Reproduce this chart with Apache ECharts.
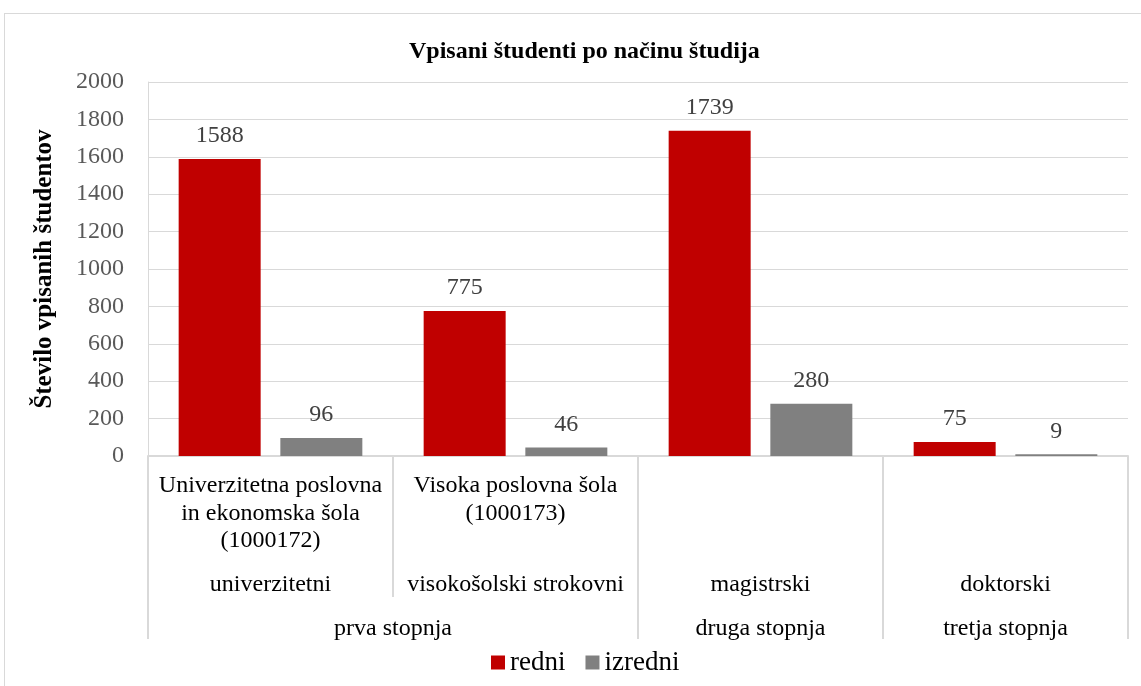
<!DOCTYPE html>
<html>
<head>
<meta charset="utf-8">
<script src="https://cdn.jsdelivr.net/npm/echarts@6/dist/echarts.min.js"></script>
<style>
  html, body { margin: 0; padding: 0; background: #fff; }
  #frame {
    position: absolute; left: 4px; top: 13px; width: 1160px; height: 700px;
    border: 1px solid #d9d9d9; box-sizing: border-box;
  }
  #chart { position: absolute; left: 0; top: 0; width: 1141px; height: 686px; }
</style>
</head>
<body>
<div id="frame"></div>
<div id="chart"></div>
<script>
// podatki
const schools = ['Univerzitetna poslovna\nin ekonomska šola\n(1000172)', 'Visoka poslovna šola\n(1000173)', '', '']
const types = ['univerzitetni', 'visokošolski strokovni', 'magistrski', 'doktorski']
const levels = ['prva stopnja', 'druga stopnja', 'tretja stopnja']
const levelCenters = [1, 2.5, 3.5]     // sredine skupin (v enotah kategorij)
const levelBorders = [0, 2, 3, 4]
const redni = [1588, 775, 1739, 75]
const izredni = [96, 46, 280, 9]
const yTicks = [0, 2000, 200]          // min, max, interval

const font = '"Liberation Serif", "Times New Roman", serif'
const lineCol = '#d9d9d9'

let chart = echarts.init(document.getElementById('chart'))
let option = {
  animation: false,
  textStyle: { fontFamily: font },
  title: {
    text: 'Vpisani študenti po načinu študija',
    left: 404,
    top: 35,
    textStyle: { fontFamily: font, fontSize: 24, fontWeight: 'bold', color: '#000' }
  },
  legend: {
    left: 486,
    top: 644,
    itemWidth: 14,
    itemHeight: 14,
    itemGap: 20,
    icon: 'rect',
    textStyle: { fontFamily: font, fontSize: 27, color: '#000' },
    data: ['redni', 'izredni']
  },
  grid: { left: 148, right: 13, top: 82, bottom: 230 },
  xAxis: [
    {
      type: 'category',
      data: schools,
      axisLine: { lineStyle: { color: lineCol, width: 2 } },
      axisTick: { show: true, length: 141, interval: 0, lineStyle: { color: lineCol, width: 2 } },
      axisLabel: {
        interval: 0, margin: 16, color: '#000', fontFamily: font, fontSize: 24,
        lineHeight: 27.5, verticalAlign: 'top'
      }
    },
    {
      type: 'category',
      data: types,
      position: 'bottom',
      axisLine: { show: false },
      axisTick: { show: false },
      axisLabel: { interval: 0, margin: 117, color: '#000', fontFamily: font, fontSize: 24, verticalAlign: 'top' }
    },
    {
      type: 'value',
      min: 0,
      max: 4,
      position: 'bottom',
      splitLine: { show: false },
      axisLine: { show: false },
      axisTick: { show: true, customValues: levelBorders, length: 183, lineStyle: { color: lineCol, width: 2 } },
      axisLabel: {
        customValues: levelCenters,
        margin: 161,
        color: '#000',
        fontFamily: font,
        fontSize: 24,
        verticalAlign: 'top',
        formatter: v => levels[levelCenters.indexOf(v)]
      }
    }
  ],
  yAxis: {
    type: 'value',
    min: yTicks[0],
    max: yTicks[1],
    interval: yTicks[2],
    name: 'Število vpisanih študentov',
    nameLocation: 'middle',
    nameGap: 91,
    nameTextStyle: { fontFamily: font, fontSize: 25, fontWeight: 'bold', color: '#000' },
    axisLine: { show: true, lineStyle: { color: lineCol } },
    axisTick: { show: false },
    axisLabel: { margin: 24, color: '#595959', fontFamily: font, fontSize: 24, formatter: v => String(v) },
    splitLine: { lineStyle: { color: lineCol } }
  },
  series: [
    {
      name: 'redni',
      type: 'bar',
      data: redni,
      barWidth: 82,
      barGap: '24%',
      itemStyle: { color: '#c00000' },
      label: { show: true, position: 'top', distance: 11, color: '#404040', fontFamily: font, fontSize: 24 }
    },
    {
      name: 'izredni',
      type: 'bar',
      data: izredni,
      barWidth: 82,
      itemStyle: { color: '#808080' },
      label: { show: true, position: 'top', distance: 11, color: '#404040', fontFamily: font, fontSize: 24 }
    }
  ]
}
chart.setOption(option)
</script>
</body>
</html>
